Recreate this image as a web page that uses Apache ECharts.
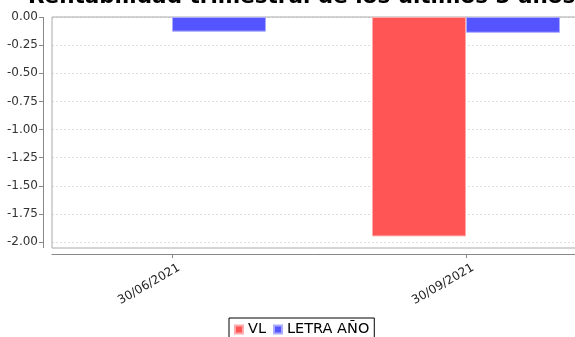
<!DOCTYPE html>
<html>
<head>
<meta charset="utf-8">
<script src="https://cdn.jsdelivr.net/npm/echarts@6/dist/echarts.min.js"></script>
<style>html,body{margin:0;padding:0;background:#fff}#c{width:575px;height:337px}</style>
</head>
<body>
<div id="c"></div>
<script>
var titleText = 'Rentabilidad trimestral de los últimos 3 años';
var categories = ['30/06/2021', '30/09/2021'];
var seriesNames = ['VL', 'LETRA AÑO'];
var vlValues = [null, -1.95];
var letraValues = [-0.13, -0.14];
var yMin = -2, yMax = 0, yStep = 0.25;

var chart = echarts.init(document.getElementById('c'));
var font = 'DejaVu Sans';
chart.setOption({
  animation: false,
  backgroundColor: '#fff',
  title: {
    text: titleText, left: 23, top: -19,
    textStyle: {fontFamily: font, fontWeight: 'bold', fontSize: 21.5, color: '#000'}
  },
  legend: {
    data: seriesNames, left: 229, top: 318,
    icon: 'rect', itemWidth: 8, itemHeight: 8, itemGap: 7,
    borderColor: '#000', borderWidth: 1, padding: [4, 5],
    textStyle: {fontFamily: font, fontSize: 14.5, color: '#000'}
  },
  grid: [
    {left: 25, top: 17, width: 588, height: 225, outerBoundsMode: 'none', containLabel: false},
    {left: 52, top: 17, width: 560, height: 225, outerBoundsMode: 'none', containLabel: false}
  ],
  graphic: [
    {type: 'rect', shape: {x: 52, y: 17, width: 600, height: 231},
      style: {fill: 'none', stroke: '#aaa', lineWidth: 1}, z: 1},
    {type: 'line', shape: {x1: 43.5, y1: 17, x2: 43.5, y2: 248},
      style: {stroke: '#888', lineWidth: 1}, z: 1}
  ],
  xAxis: [
    {
      type: 'category', data: categories, gridIndex: 0, offset: 12, position: 'bottom',
      axisLine: {show: false, onZero: false},
      axisTick: {show: true, alignWithLabel: true, length: 4, lineStyle: {color: '#888'}},
      axisLabel: {rotate: 30, fontFamily: font, fontSize: 12, color: '#222', margin: 17,
        padding: [0, -8, 0, 0]}
    },
    {
      type: 'value', gridIndex: 1, min: 0, max: 1, offset: 12, position: 'bottom',
      axisLine: {show: true, onZero: false, lineStyle: {color: '#888'}},
      axisTick: {show: false}, axisLabel: {show: false}, splitLine: {show: false}
    }
  ],
  yAxis: [
    {
      type: 'value', gridIndex: 0, min: yMin, max: yMax, interval: yStep,
      show: false, splitLine: {show: false}
    },
    {
      type: 'value', gridIndex: 1, min: yMin, max: yMax, interval: yStep, offset: 9,
      axisLine: {show: false, onZero: false},
      axisTick: {show: true, length: 4, lineStyle: {color: '#888'}},
      axisLabel: {fontFamily: font, fontSize: 12, color: '#333', margin: 5,
        formatter: function (v) { return v.toFixed(2); }},
      splitLine: {show: true, lineStyle: {color: '#ddd', type: [2, 2]}}
    }
  ],
  series: [
    {name: seriesNames[0], type: 'bar', xAxisIndex: 0, yAxisIndex: 0, data: vlValues,
      barWidth: 94, barGap: '0%',
      itemStyle: {color: '#ff5555', borderColor: '#ffaaaa', borderWidth: 1}},
    {name: seriesNames[1], type: 'bar', xAxisIndex: 0, yAxisIndex: 0, data: letraValues,
      barWidth: 94, barGap: '0%',
      itemStyle: {color: '#5555ff', borderColor: '#aaaaff', borderWidth: 1}}
  ]
});
</script>
</body>
</html>
